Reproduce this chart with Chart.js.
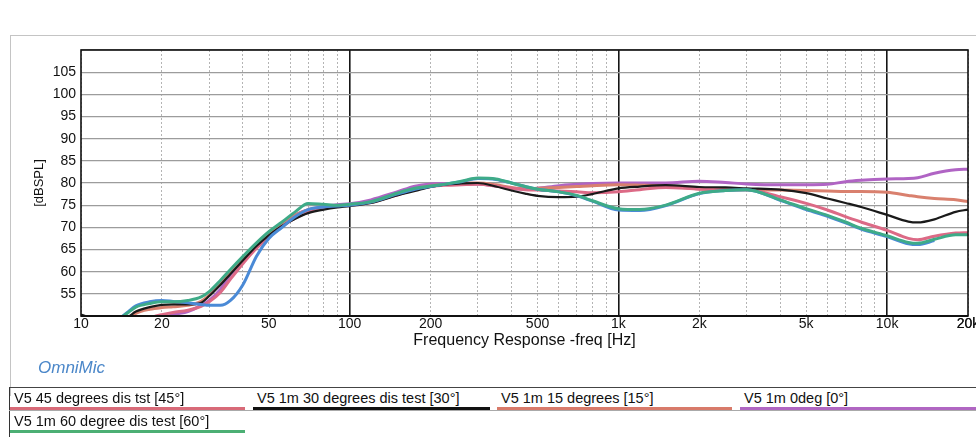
<!DOCTYPE html>
<html>
<head>
<meta charset="utf-8">
<script src="https://cdn.jsdelivr.net/npm/chart.js@4.4.0/dist/chart.umd.min.js"></script>
<style>
  body { margin: 0; background: #fff; font-family: "Liberation Sans", Arial, sans-serif; }
  #page { position: relative; width: 976px; height: 437px; overflow: hidden; background: #fff; }
  #frame { position: absolute; left: 10px; top: 35px; width: 980px; height: 360px;
           border-left: 1px solid #c4c4c4; border-top: 1px solid #c4c4c4; }
  #wrap { position: absolute; left: 0; top: 0; width: 976px; height: 360px; }
  #wrap canvas { display: block; }
  #brand { position: absolute; left: 38px; top: 358px; font-style: italic; font-size: 17px; color: #4b87c9; }
  #legend { position: absolute; left: 9px; top: 387px; width: 980px; height: 60px;
            border-left: 1.5px solid #333; border-top: 1.5px solid #444; }
  #rowsep { position: absolute; left: 9px; top: 410px; width: 967px; border-top: 1px solid #aaa; }
  .item { position: absolute; font-size: 14.5px; color: #111; white-space: nowrap; line-height: 16px; }
  .item span { padding-left: 4px; }
  .item .bar { height: 2.5px; margin-top: 1px; }
</style>
</head>
<body>
<div id="page">
  <div id="frame"></div>
  <div id="wrap"><canvas id="myChart" width="976" height="360"></canvas></div>
  <div id="brand">OmniMic</div>
  <div id="legend"></div>
  <div id="rowsep"></div>
  <div id="legendItems"></div>
</div>
<script>
// frequency points (Hz) shared by all traces
const freqs = [10, 12, 14, 15, 16, 18, 20, 22, 25, 28, 30, 33, 36, 40, 45, 50, 56, 63, 70, 80, 90,
  100, 120, 150, 175, 200, 230, 260, 300, 350, 400, 450, 500, 600, 700, 800,
  1000, 1200, 1500, 2000, 2500, 3000, 4000, 5000, 6000, 7000, 8000,
  10000, 12000, 13000, 15000, 18000, 20000];

// dBSPL
const deg0 = [45, 45, 45.5, 46, 46.5, 48, 49.3, 50.3, 51, 52.4, 53.5, 56, 59.3, 62.8, 66.3, 68.8, 71, 72.9, 74, 74.7, 75.1,
  75.3, 76.2, 78, 79.3, 79.8, 79.9, 79.8, 79.8, 79.3, 78.8, 78.6, 78.8, 79.4, 79.7, 79.9,
  80, 80, 80, 80.4, 80.1, 79.8, 79.6, 79.6, 79.7, 80.3, 80.6,
  80.9, 81, 81.2, 82.2, 83, 83.1];
const deg15 = [47, 47, 48.5, 49.5, 50.6, 51.5, 51.9, 52.1, 52.4, 53.3, 54.7, 57.3, 59.8, 63, 66.2, 68.6, 70.8, 72.8, 73.9, 74.5, 74.8,
  75, 75.6, 77.4, 78.7, 79.4, 79.8, 80, 80, 79.6, 79, 78.7, 78.8, 79, 79.2, 79.4,
  79.6, 79.5, 79.3, 78.7, 78.5, 78.5, 78.4, 78.3, 78.2, 78.1, 78.1,
  77.9, 77.2, 76.9, 76.5, 76.2, 75.8];
const deg30 = [50.3, 49, 49, 49.8, 51, 52, 52.5, 52.6, 52.6, 53, 54.5, 57, 59.5, 62.5, 65.8, 68.2, 70.3, 72, 73.2, 74, 74.5,
  74.8, 75.5, 77.2, 78.2, 79.1, 79.7, 79.9, 80, 79.2, 78.3, 77.6, 77.1, 76.8, 76.9, 77.5,
  78.8, 79.2, 79.5, 79.1, 79, 78.8, 78.5, 77.7, 76.5, 75.5, 74.6,
  72.8, 71.3, 71.1, 71.8, 73.5, 74];
const deg45 = [45, 45, 46, 47, 48, 49.5, 50.3, 50.8, 51.3, 52.2, 53.2, 55.3, 58.3, 61.8, 65.3, 67.8, 70.2, 72.2, 73.4, 74.3, 74.8,
  75, 75.7, 77.3, 78.5, 79.2, 79.5, 79.6, 79.7, 79.3, 78.8, 78.5, 78.4, 78.2, 78, 77.8,
  78, 78.5, 79, 78.6, 78.5, 78.5, 76.9, 75.4, 73.9, 72.4, 71.2,
  69.3, 67.5, 67.2, 68, 68.7, 68.8];
const deg60 = [47, 47.5, 49.5, 50.8, 52, 52.8, 53.2, 53.2, 53.5, 54.3, 55.5, 58, 60.5, 63.4, 66.5, 69, 71.2, 73.6, 75.4, 75.2, 75,
  75.2, 75.8, 77.7, 78.8, 79.3, 79.8, 80.4, 81.1, 80.9, 80, 79.2, 78.6, 78, 77.2, 76,
  74.2, 74, 75, 77.7, 78.3, 78.5, 76.2, 74.2, 72.7, 71.2, 69.8,
  68.1, 66.6, 66.4, 67.3, 68.3, 68.3];
// blue trace in the plot that has no legend entry
const unlisted = [null, null, 49.5, 51, 52.3, 53.2, 53.5, 53.3, 53, 52.6, 52.4, 52.4, 53.5, 57, 63.5, 67.5, 70, 72.5, 74, 74.6, 74.8,
  75, 75.7, 77.5, 78.6, 79.2, 79.8, 80.3, 81, 80.8, 80, 79.2, 78.6, 78, 77.1, 75.9,
  73.9, 73.8, 74.9, 77.6, 78.3, 78.5, 76.1, 74, 72.5, 71, 69.6,
  67.9, 66.3, 66.1, 67, null, null];

const tickValues = [10, 20, 50, 100, 200, 500, 1000, 2000, 5000, 10000, 20000];
const tickNames = ["10", "20", "50", "100", "200", "500", "1k", "2k", "5k", "10k", "20k"];
const majorLines = [100, 1000, 10000];

const legendNames = ["V5 45 degrees dis tst [45°]", "V5 1m 30 degrees dis test [30°]",
  "V5 1m 15 degrees [15°]", "V5 1m 0deg [0°]", "V5 1m 60 degree dis test [60°]"];
const legendColors = ["#d86a78", "#111111", "#d87a6a", "#b066c2", "#4caf74"];

const toPoints = (vals) => freqs.map((f, i) => ({ x: f, y: vals[i] }));

// grid positions: every 1..9 x decade
const gridTicks = [];
[10, 100, 1000, 10000].forEach((d) => {
  for (let m = 1; m < 10; m++) gridTicks.push(d * m);
});
gridTicks.push(20000);

const frame = {
  id: "frame",
  afterDraw(chart) {
    const { ctx, chartArea: a } = chart;
    ctx.save();
    ctx.strokeStyle = "#111";
    ctx.lineWidth = 1.6;
    ctx.strokeRect(a.left, a.top, a.right - a.left, a.bottom - a.top);
    ctx.lineWidth = 2.2;
    ctx.beginPath();
    ctx.moveTo(a.left, a.bottom);
    ctx.lineTo(a.right, a.bottom);
    ctx.stroke();
    ctx.restore();
  },
};

const line = (label, vals, color, width) => ({
  label: label,
  data: toPoints(vals),
  borderColor: color,
  borderWidth: width,
  pointRadius: 0,
  cubicInterpolationMode: "monotone",
  spanGaps: false,
});

// first dataset is painted last (on top)
const ctx = document.getElementById("myChart").getContext("2d");
const myChart = new Chart(ctx, {
  type: "line",
  data: {
    datasets: [
      line(legendNames[4], deg60, "#3eab88", 3),
      line("blue", unlisted, "#4a8ad6", 3),
      line(legendNames[1], deg30, "#1a1a1a", 2.2),
      line(legendNames[0], deg45, "#dc6a86", 3),
      line(legendNames[2], deg15, "#d9806e", 3),
      line(legendNames[3], deg0, "#b064c4", 3),
    ],
  },
  options: {
    responsive: false,
    animation: false,
    events: [],
    layout: { padding: { left: 0, right: 8, top: 50, bottom: 0 } },
    plugins: { legend: { display: false }, tooltip: { enabled: false } },
    scales: {
      x: {
        type: "logarithmic",
        min: 10,
        max: 20000,
        afterBuildTicks: (scale) => {
          scale.ticks = gridTicks.map((v) => ({ value: v }));
        },
        afterFit: (scale) => {
          scale.height = 44;
          scale.paddingLeft = 0;
          scale.paddingRight = 0;
        },
        ticks: {
          autoSkip: false,
          maxRotation: 0,
          padding: 0,
          color: "#111",
          font: { family: "Liberation Sans", size: 14 },
          callback: (v) => {
            const k = tickValues.indexOf(v);
            return k >= 0 ? tickNames[k] : "";
          },
        },
        grid: {
          drawTicks: false,
          color: (c) => (majorLines.includes(c.tick && c.tick.value) ? "#151515" : "#b4b4b4"),
          lineWidth: (c) => (majorLines.includes(c.tick && c.tick.value) ? 1.6 : 1),
        },
        border: {
          display: false,
          dash: (c) => (majorLines.includes(c.tick && c.tick.value) ? [] : [2, 2]),
        },
        title: {
          display: true,
          text: "Frequency Response -freq [Hz]",
          color: "#111",
          font: { family: "Liberation Sans", size: 16 },
          padding: { top: 0, bottom: 10 },
        },
      },
      y: {
        min: 50,
        max: 110,
        afterFit: (scale) => {
          scale.width = 81;
          scale.paddingTop = 0;
          scale.paddingBottom = 0;
        },
        ticks: {
          stepSize: 5,
          padding: 5,
          color: "#111",
          font: { family: "Liberation Sans", size: 14 },
          callback: (v) => (v > 50 && v < 110 ? String(v) : ""),
        },
        grid: { drawTicks: false, color: "#9c9c9c", lineWidth: 1.3 },
        border: { display: false },
        title: {
          display: true,
          text: "[dBSPL]",
          color: "#111",
          font: { family: "Liberation Sans", size: 13 },
          padding: { top: 32, bottom: 0 },
        },
      },
    },
  },
  plugins: [frame],
});

// legend table under the plot
const cols = [10, 253, 497, 740];
const widths = [235, 237, 235, 236];
const rowsTop = [390, 413];
const box = document.getElementById("legendItems");
legendNames.forEach((name, i) => {
  const el = document.createElement("div");
  el.className = "item";
  el.style.left = cols[i % 4] + "px";
  el.style.top = rowsTop[Math.floor(i / 4)] + "px";
  el.style.width = widths[i % 4] + "px";
  el.innerHTML = "<span></span><div class='bar'></div>";
  el.querySelector("span").textContent = name;
  el.querySelector(".bar").style.background = legendColors[i];
  box.appendChild(el);
});
</script>
</body>
</html>
